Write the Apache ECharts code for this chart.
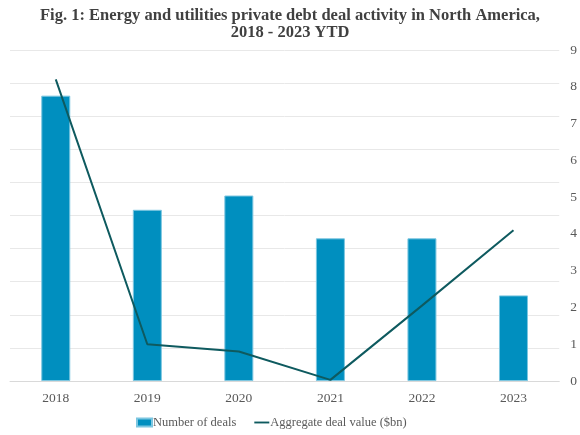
<!DOCTYPE html>
<html>
<head>
<meta charset="utf-8">
<script src="https://cdn.jsdelivr.net/npm/echarts@6/dist/echarts.min.js"></script>
<style>
  html, body { margin: 0; padding: 0; background: #fff; }
  #main { width: 580px; height: 435px; }
</style>
</head>
<body>
<div id="main"></div>
<script>
// 数据
var years = ['2018', '2019', '2020', '2021', '2022', '2023'];
var deals = [20, 12, 13, 10, 10, 6];
var dealValue = [8.2, 1.0, 0.8, 0.03, 2.05, 4.1];
var valueTicks = [0, 1, 2, 3, 4, 5, 6, 7, 8, 9];

var serif = '"Liberation Serif", "DejaVu Serif", serif';

var chart = echarts.init(document.getElementById('main'));
chart.setOption({
    animation: false,
    backgroundColor: '#ffffff',
    textStyle: { fontFamily: serif },
    title: {
        text: 'Fig. 1: Energy and utilities private debt deal activity in North America,\n2018 - 2023 YTD',
        left: 'center',
        top: 2,
        textStyle: {
            fontFamily: serif,
            fontSize: 16.5,
            fontWeight: 'bold',
            color: '#404040',
            lineHeight: 17
        }
    },
    legend: {
        bottom: 1,
        left: 131,
        itemGap: 18,
        itemWidth: 15,
        itemHeight: 8,
        textStyle: { fontFamily: serif, fontSize: 12.5, color: '#595959', padding: [0, 0, 0, -4] },
        data: [
            { name: 'Number of deals', icon: 'rect' },
            { name: 'Aggregate deal value ($bn)', icon: 'path://M0,0 L16,0 L16,2 L0,2 Z' }
        ]
    },
    grid: { left: 10, right: 18, top: 50, bottom: 54, containLabel: false },
    xAxis: {
        type: 'category',
        data: years,
        axisLine: { show: true, lineStyle: { color: '#d9d9d9' } },
        axisTick: { show: false },
        axisLabel: { fontFamily: serif, fontSize: 13.5, color: '#595959', margin: 10 }
    },
    yAxis: [
        {
            // 左轴隐藏，只画网格线
            type: 'value',
            min: 0,
            max: 23.2,
            interval: 2.32,
            axisLabel: { show: false },
            axisLine: { show: false },
            axisTick: { show: false },
            splitLine: { lineStyle: { color: '#e8e8e8', width: 1 } }
        },
        {
            type: 'value',
            min: valueTicks[0],
            max: valueTicks[valueTicks.length - 1],
            interval: 1,
            position: 'right',
            axisLabel: { fontFamily: serif, fontSize: 13.5, color: '#595959', margin: 11 },
            axisLine: { show: false },
            axisTick: { show: false },
            splitLine: { show: false }
        }
    ],
    series: [
        {
            name: 'Number of deals',
            type: 'bar',
            yAxisIndex: 0,
            barWidth: 29,
            data: deals,
            itemStyle: { color: '#008fbf', borderColor: '#7cc6e0', borderWidth: 1 }
        },
        {
            name: 'Aggregate deal value ($bn)',
            type: 'line',
            yAxisIndex: 1,
            data: dealValue,
            symbol: 'none',
            lineStyle: { color: '#0e5a5f', width: 2 },
            itemStyle: { color: '#0e5a5f' }
        }
    ]
});
</script>
</body>
</html>
